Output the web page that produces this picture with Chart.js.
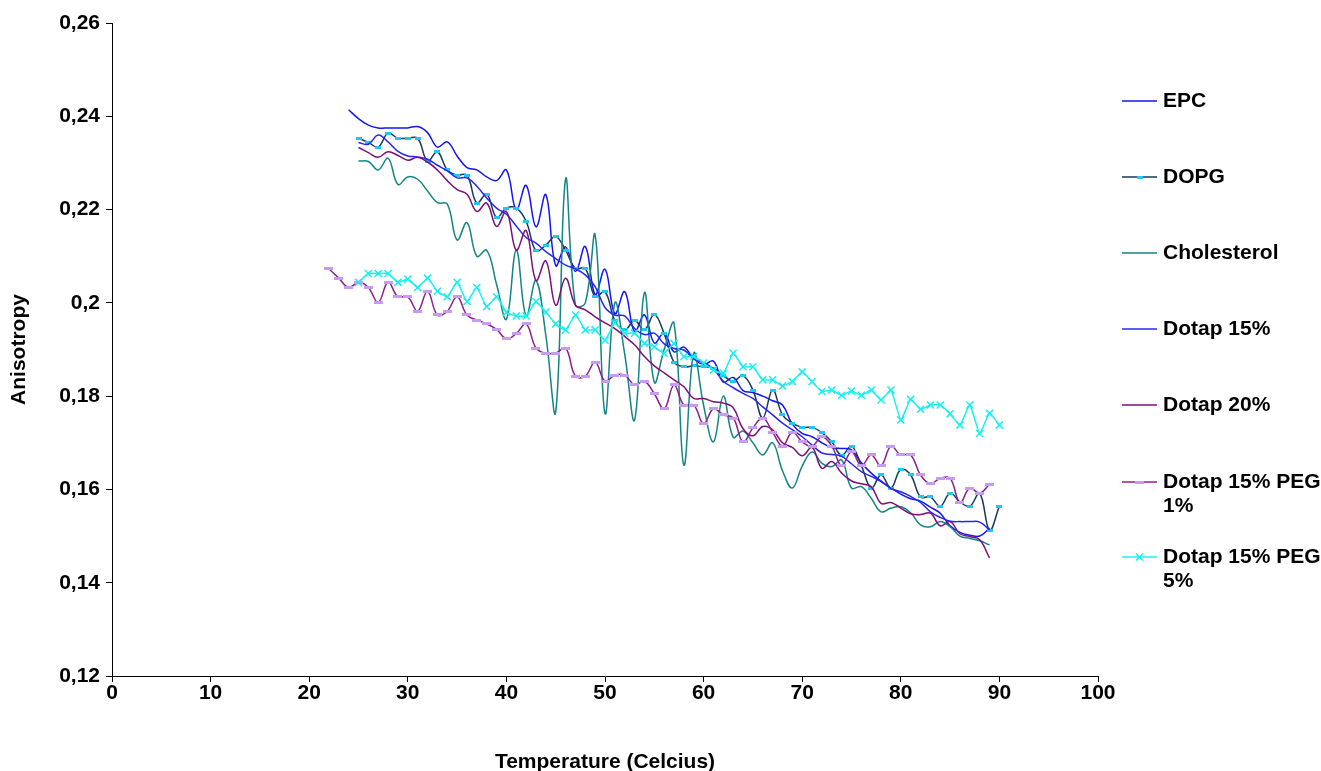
<!DOCTYPE html>
<html>
<head>
<meta charset="utf-8">
<title>Anisotropy vs temperature</title>
<script src="https://cdn.jsdelivr.net/npm/chart.js@4.4.1/dist/chart.umd.min.js"></script>
<style>
  html, body { margin: 0; padding: 0; background: #fff; }
  #wrap { width: 1321px; height: 771px; position: relative; }
</style>
</head>
<body>
<div id="wrap"><canvas id="anisoChart"></canvas></div>
<script>
// temperatures (°C), one reading per degree
const temps = [
  22, 23, 24, 25, 26, 27, 28, 29,
  30, 31, 32, 33, 34, 35, 36, 37, 38, 39,
  40, 41, 42, 43, 44, 45, 46, 47, 48, 49,
  50, 51, 52, 53, 54, 55, 56, 57, 58, 59,
  60, 61, 62, 63, 64, 65, 66, 67, 68, 69,
  70, 71, 72, 73, 74, 75, 76, 77, 78, 79,
  80, 81, 82, 83, 84, 85, 86, 87, 88, 89,
  90
];

const epc = [
  null, null, 0.2414, 0.2395, 0.2381, 0.2375, 0.2375, 0.2375,
  0.2375, 0.2378, 0.2365, 0.2334, 0.2345, 0.2315, 0.2290, 0.2285, 0.2270, 0.2262,
  0.2285, 0.2200, 0.2252, 0.2163, 0.2232, 0.2080, 0.2120, 0.2067, 0.2121, 0.2018,
  0.2072, 0.1977, 0.2024, 0.1938, 0.1974, 0.1914, 0.1935, 0.1895, 0.1905, 0.1880,
  0.1868, 0.1875, 0.1830, 0.1840, 0.1812, 0.1808, 0.1800, 0.1790, 0.1781, 0.1740,
  0.1720, 0.1713, 0.1700, 0.1690, 0.1688, 0.1685, 0.1657, 0.1635, 0.1618, 0.1603,
  0.1590, 0.1580, 0.1575, 0.1562, 0.1549, 0.1522, 0.1508, 0.1502, 0.1500, 0.1517,
  null
];

const dopg = [
  null, null, null, 0.2353, 0.2344, 0.2334, 0.2364, 0.2353,
  0.2353, 0.2353, 0.2304, 0.2324, 0.2285, 0.2274, 0.2274, 0.2214, 0.2233, 0.2183,
  0.2203, 0.2203, 0.2175, 0.2112, 0.2124, 0.2142, 0.2113, 0.2074, 0.2074, 0.2013,
  0.2024, 0.1962, 0.1942, 0.1962, 0.1942, 0.1975, 0.1934, 0.1873, 0.1863, 0.1865,
  0.1863, 0.1860, 0.1844, 0.1832, 0.1844, 0.1813, 0.1753, 0.1813, 0.1760, 0.1742,
  0.1733, 0.1733, 0.1722, 0.1702, 0.1673, 0.1693, 0.1651, 0.1603, 0.1631, 0.1603,
  0.1643, 0.1631, 0.1584, 0.1584, 0.1564, 0.1592, 0.1573, 0.1564, 0.1592, 0.1513,
  0.1564
];

const cholesterol = [
  null, null, null, 0.2304, 0.2303, 0.2285, 0.2310, 0.2254,
  0.2270, 0.2265, 0.2240, 0.2215, 0.2212, 0.2135, 0.2172, 0.2100, 0.2113, 0.2040,
  0.1965, 0.2113, 0.1972, 0.2048, 0.1930, 0.1766, 0.2265, 0.1995, 0.2000, 0.2145,
  0.1763, 0.2000, 0.1890, 0.1749, 0.2022, 0.1830, 0.1900, 0.1956, 0.1652, 0.1892,
  0.1780, 0.1702, 0.1800, 0.1712, 0.1725, 0.1700, 0.1674, 0.1700, 0.1640, 0.1603,
  0.1650, 0.1680, 0.1656, 0.1649, 0.1663, 0.1603, 0.1606, 0.1581, 0.1552, 0.1560,
  0.1563, 0.1550, 0.1524, 0.1520, 0.1531, 0.1520, 0.1500, 0.1495, 0.1490, 0.1481,
  null
];

const dotap15 = [
  null, null, null, 0.2344, 0.2340, 0.2360, 0.2345, 0.2325,
  0.2315, 0.2313, 0.2308, 0.2295, 0.2283, 0.2268, 0.2268, 0.2250, 0.2225, 0.2203,
  0.2190, 0.2165, 0.2140, 0.2128, 0.2110, 0.2095, 0.2081, 0.2073, 0.2060, 0.2035,
  0.1990, 0.1974, 0.1972, 0.1945, 0.1932, 0.1935, 0.1912, 0.1902, 0.1899, 0.1880,
  0.1872, 0.1858, 0.1832, 0.1818, 0.1806, 0.1795, 0.1777, 0.1760, 0.1742, 0.1728,
  0.1713, 0.1695, 0.1678, 0.1675, 0.1671, 0.1655, 0.1638, 0.1628, 0.1617, 0.1602,
  0.1595, 0.1585, 0.1572, 0.1552, 0.1540, 0.1532, 0.1531, 0.1531, 0.1530, 0.1513,
  null
];

const dotap20 = [
  null, null, null, 0.2333, 0.2322, 0.2312, 0.2324, 0.2316,
  0.2306, 0.2312, 0.2302, 0.2285, 0.2262, 0.2243, 0.2233, 0.2196, 0.2214, 0.2164,
  0.2196, 0.2113, 0.2155, 0.2048, 0.2090, 0.1995, 0.2053, 0.1995, 0.1985, 0.1970,
  0.1957, 0.1945, 0.1928, 0.1910, 0.1885, 0.1865, 0.1850, 0.1835, 0.1820, 0.1795,
  0.1795, 0.1788, 0.1785, 0.1775, 0.1730, 0.1715, 0.1735, 0.1728, 0.1700, 0.1690,
  0.1672, 0.1690, 0.1645, 0.1660, 0.1635, 0.1618, 0.1612, 0.1606, 0.1570, 0.1572,
  0.1560, 0.1548, 0.1546, 0.1549, 0.1522, 0.1531, 0.1505, 0.1499, 0.1492, 0.1453,
  null
];

const peg1 = [
  0.2073, 0.2053, 0.2033, 0.2044, 0.2033, 0.2001, 0.2044, 0.2013,
  0.2013, 0.1982, 0.2025, 0.1974, 0.1982, 0.2013, 0.1974, 0.1963, 0.1955, 0.1943,
  0.1923, 0.1934, 0.1955, 0.1903, 0.1892, 0.1892, 0.1903, 0.1843, 0.1843, 0.1873,
  0.1832, 0.1845, 0.1845, 0.1824, 0.1832, 0.1805, 0.1773, 0.1824, 0.1781, 0.1781,
  0.1741, 0.1773, 0.1760, 0.1753, 0.1702, 0.1732, 0.1753, 0.1723, 0.1693, 0.1723,
  0.1702, 0.1693, 0.1713, 0.1693, 0.1651, 0.1681, 0.1651, 0.1674, 0.1651, 0.1693,
  0.1674, 0.1674, 0.1631, 0.1612, 0.1624, 0.1624, 0.1572, 0.1603, 0.1592, 0.1611,
  null
];

const peg5 = [
  null, null, null, 0.2044, 0.2063, 0.2063, 0.2063, 0.2044,
  0.2051, 0.2033, 0.2053, 0.2025, 0.2013, 0.2044, 0.2003, 0.2033, 0.1992, 0.2013,
  0.1980, 0.1972, 0.1972, 0.2003, 0.1980, 0.1955, 0.1942, 0.1974, 0.1942, 0.1942,
  0.1920, 0.1957, 0.1935, 0.1935, 0.1913, 0.1906, 0.1892, 0.1913, 0.1885, 0.1885,
  0.1871, 0.1856, 0.1849, 0.1892, 0.1863, 0.1863, 0.1835, 0.1835, 0.1822, 0.1831,
  0.1852, 0.1831, 0.1810, 0.1813, 0.1802, 0.1811, 0.1802, 0.1813, 0.1792, 0.1813,
  0.1749, 0.1793, 0.1772, 0.1781, 0.1781, 0.1762, 0.1738, 0.1781, 0.1720, 0.1763,
  0.1738
];

const seriesNames = ['EPC', 'DOPG', 'Cholesterol', 'Dotap 15%', 'Dotap 20%', 'Dotap 15% PEG 1%', 'Dotap 15% PEG 5%'];

const FONT = '"Liberation Sans", Arial, Helvetica, sans-serif';
const TEXT_SIZE = 21;

// small flat dash used as a marker
function dash(w, h, color) {
  const c = document.createElement('canvas');
  c.width = w;
  c.height = h;
  const g = c.getContext('2d');
  g.fillStyle = color;
  g.fillRect(0, 0, w, h);
  return c;
}

const dopgMark = dash(6, 3, '#1FC8F0');
const peg1Mark = dash(9, 3, '#C89BF2');

function toPoints(vals) {
  return temps.map((t, i) => ({ x: t, y: vals[i] }));
}

function series(name, vals, color, extra) {
  return Object.assign({
    label: name,
    data: toPoints(vals),
    borderColor: color,
    backgroundColor: color,
    borderWidth: 1.5,
    pointRadius: 0,
    pointHoverRadius: 0,
    tension: 0.4,
    fill: false
  }, extra || {});
}

const datasets = [
  series(seriesNames[0], epc, '#1414F5', { order: 7 }),
  series(seriesNames[1], dopg, '#17375E', { order: 6, pointStyle: dopgMark, pointRadius: 3 }),
  series(seriesNames[2], cholesterol, '#138585', { order: 5 }),
  series(seriesNames[3], dotap15, '#2727F0', { order: 4 }),
  series(seriesNames[4], dotap20, '#7D0F7D', { order: 3 }),
  series(seriesNames[5], peg1, '#8E1F8A', { order: 2, pointStyle: peg1Mark, pointRadius: 4 }),
  series(seriesNames[6], peg5, '#18F0F0', {
    order: 1, tension: 0.15, pointStyle: 'crossRot', pointRadius: 5,
    pointBorderColor: '#18F0F0', pointBorderWidth: 1.5
  })
];

// legend at the right of the plot, one row per series
const sideLegend = {
  id: 'sideLegend',
  afterDraw(chart) {
    const ctx = chart.ctx;
    const rows = [101, 177, 253, 329, 405, 482, 557];
    const x0 = 1122, x1 = 1157, tx = 1163, maxW = 175, lh = 24;
    ctx.save();
    ctx.font = 'bold ' + TEXT_SIZE + 'px ' + FONT;
    ctx.textBaseline = 'middle';
    ctx.textAlign = 'left';
    chart.data.datasets.forEach((ds, i) => {
      const y = rows[i];
      ctx.strokeStyle = ds.borderColor;
      ctx.lineWidth = 1.5;
      ctx.beginPath();
      ctx.moveTo(x0, y);
      ctx.lineTo(x1, y);
      ctx.stroke();
      if (ds.pointRadius > 0) {
        if (ds.pointStyle === 'crossRot') {
          ctx.strokeStyle = ds.pointBorderColor;
          ctx.lineWidth = 1.5;
        }
        Chart.helpers.drawPoint(ctx, {
          pointStyle: ds.pointStyle,
          radius: ds.pointRadius,
          borderWidth: ds.pointBorderWidth || 1,
          rotation: 0
        }, (x0 + x1) / 2, y);
      }
      // wrap the label onto extra lines when it runs past the edge
      const words = ds.label.split(' ');
      const lines = [];
      let cur = '';
      words.forEach(w => {
        const test = cur ? cur + ' ' + w : w;
        if (cur && ctx.measureText(test).width > maxW) {
          lines.push(cur);
          cur = w;
        } else {
          cur = test;
        }
      });
      lines.push(cur);
      ctx.fillStyle = '#000';
      lines.forEach((ln, k) => ctx.fillText(ln, tx, y + k * lh));
    });
    ctx.restore();
  }
};

new Chart(document.getElementById('anisoChart'), {
  type: 'line',
  data: { datasets: datasets },
  plugins: [sideLegend],
  options: {
    responsive: true,
    maintainAspectRatio: false,
    animation: false,
    layout: { padding: { left: 0, top: 23, right: 223, bottom: 0 } },
    plugins: {
      legend: { display: false },
      tooltip: { enabled: false }
    },
    scales: {
      x: {
        type: 'linear',
        min: 0,
        max: 100,
        ticks: { stepSize: 10, color: '#000', padding: 0, font: { family: FONT, size: TEXT_SIZE, weight: 'bold', lineHeight: 1.1 } },
        grid: { drawOnChartArea: false, drawTicks: true, tickLength: 6, color: '#000' },
        border: { color: '#000', width: 1 },
        title: {
          display: true,
          text: 'Temperature (Celcius)',
          color: '#000',
          padding: 0,
          font: { family: FONT, size: TEXT_SIZE, weight: 'bold', lineHeight: 0.8 }
        },
        afterFit(scale) { scale.height = 95; }
      },
      y: {
        min: 0.12,
        max: 0.26,
        ticks: {
          stepSize: 0.02,
          color: '#000',
          padding: 6,
          font: { family: FONT, size: TEXT_SIZE, weight: 'bold' },
          callback: v => String(Math.round(v * 100) / 100).replace('.', ',')
        },
        grid: { drawOnChartArea: false, drawTicks: true, tickLength: 6, color: '#000' },
        border: { color: '#000', width: 1 },
        title: {
          display: true,
          text: 'Anisotropy',
          color: '#000',
          padding: { top: 9, bottom: 0 },
          font: { family: FONT, size: TEXT_SIZE, weight: 'bold', lineHeight: 1.0 }
        },
        afterFit(scale) { scale.width = 112; }
      }
    }
  }
});
</script>
</body>
</html>
